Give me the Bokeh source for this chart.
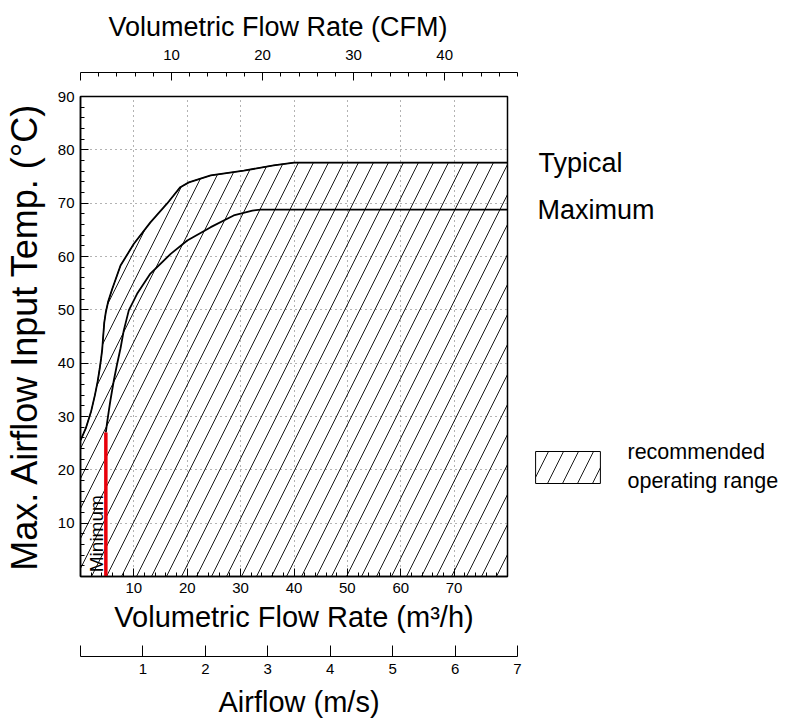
from bokeh.plotting import figure
from bokeh.layouts import column, row
from bokeh.models import Range1d, FixedTicker, Label, Legend, LegendItem
from bokeh.embed import file_html
from bokeh.resources import INLINE
from bokeh.core.validation import silence
from bokeh.core.validation.warnings import MISSING_RENDERERS

silence(MISSING_RENDERERS, True)

# ---------------- data (flow in m3/h, temperature in degC) ----------------
typical_flow = [0.0, 1.0, 2.0, 2.7, 3.2, 3.6, 3.85, 4.07, 4.25, 4.45, 4.75, 5.2, 5.94, 7.5,
                10.0, 13.1, 16.2, 18.7, 20.3, 24.4, 30.6, 36.2, 40.0, 80.0]
typical_temp = [25.5, 27.8, 31.0, 34.0, 36.5, 39.0, 40.8, 42.6, 45.0, 47.6, 49.6, 51.6, 53.9, 58.3,
                62.4, 66.4, 69.9, 73.0, 73.9, 75.2, 76.1, 77.1, 77.6, 77.6]

maximum_flow = [4.75, 4.95, 5.3, 5.6, 6.25, 6.85, 7.5, 8.1, 9.05, 10.6, 13.1, 16.9, 20.0, 24.4,
                28.7, 32.2, 33.7, 80.0]
maximum_temp = [27.0, 28.6, 31.0, 33.0, 36.8, 39.8, 42.8, 46.1, 49.9, 53.0, 56.8, 60.5, 63.0, 65.5,
                67.7, 68.6, 68.8, 68.8]

minimum_flow = [4.75]
minimum_temp = [27.0]

flow_ticks = [10, 20, 30, 40, 50, 60, 70]
flow_minor = list(range(2, 80, 2))
temp_ticks = [10, 20, 30, 40, 50, 60, 70, 80, 90]
temp_minor = list(range(2, 90, 2))
cfm_ticks = [0, 10, 20, 30, 40]
cfm_minor = list(range(2, 49, 2))
airflow_ticks = [0, 1, 2, 3, 4, 5, 6, 7]

FLOW_MAX = 80
TEMP_MAX = 90
CFM_MAX = 48
AIRFLOW_MAX = 7

SANS = "Liberation Sans"
W = 784


def style_axis(ax, ticks, minor, tick_in, label, label_size, std_major, std_label, hide=()):
    ax.ticker = FixedTicker(ticks=ticks, minor_ticks=minor)
    ax.major_tick_in = tick_in
    ax.major_tick_out = 0
    ax.minor_tick_in = 4
    ax.minor_tick_out = 0
    ax.axis_line_color = "black"
    ax.major_tick_line_color = "black"
    ax.minor_tick_line_color = "black"
    ax.major_label_text_font = SANS
    ax.major_label_text_font_size = "15px"
    ax.major_label_text_color = "black"
    ax.major_label_standoff = std_major
    ax.axis_label = label
    ax.axis_label_text_font = SANS
    ax.axis_label_text_font_size = label_size
    ax.axis_label_text_font_style = "normal"
    ax.axis_label_text_color = "black"
    ax.axis_label_standoff = std_label
    if hide:
        ax.major_label_overrides = {h: "" for h in hide}


# ---------------- top: CFM axis ----------------
fa = figure(width=W, height=82, x_range=Range1d(0, CFM_MAX), y_range=Range1d(0, 1),
            x_axis_location="above", y_axis_location=None,
            min_border_left=80, min_border_right=W - 80 - 437,
            min_border_top=72, min_border_bottom=0,
            toolbar_location=None, output_backend="svg")
fa.outline_line_color = None
fa.grid.visible = False
style_axis(fa.xaxis[0], cfm_ticks, cfm_minor, 8, None, "27px", 13, 0, hide=(0,))
fa.title.text = "Volumetric Flow Rate (CFM)"
fa.title.align = "left"
fa.title.offset = 28
fa.title.standoff = 9
fa.title.text_font = SANS
fa.title.text_font_size = "27px"
fa.title.text_font_style = "normal"
fa.title.text_color = "black"

# ---------------- main plot ----------------
fb = figure(width=509, height=558, x_range=Range1d(0, FLOW_MAX), y_range=Range1d(0, TEMP_MAX),
            min_border_left=80, min_border_right=2,
            min_border_top=14, min_border_bottom=64,
            toolbar_location=None, output_backend="svg")
fb.outline_line_color = "black"
fb.outline_line_width = 1.5
fb.background_fill_color = "white"
fb.border_fill_color = "white"

style_axis(fb.xaxis[0], flow_ticks, flow_minor, 8, "Volumetric Flow Rate (m³/h)", "29px", 6, 5)
style_axis(fb.yaxis[0], temp_ticks, temp_minor, 8, "Max. Airflow Input Temp. (°C)", "36px", 6, 10)
fb.xaxis[0].axis_line_width = 1.5
fb.yaxis[0].axis_line_width = 1.5

for g in (fb.xgrid[0], fb.ygrid[0]):
    g.grid_line_color = "#666666"
    g.grid_line_dash = "1 4"
    g.grid_line_width = 1

HATCH = dict(fill_color=None, hatch_pattern="/", hatch_color="black",
             hatch_scale=30, hatch_weight=0.9, line_color="black", line_width=1)

region_x = typical_flow + [FLOW_MAX, 0]
region_y = typical_temp + [0, 0]
fb.patch(region_x, region_y, **HATCH)

fb.line(typical_flow, typical_temp, line_color="black", line_width=1.8)
fb.line(maximum_flow, maximum_temp, line_color="black", line_width=1.8)
fb.segment(x0=minimum_flow, y0=[0], x1=minimum_flow, y1=minimum_temp,
           line_color="#e8000b", line_width=3.5)

fb.add_layout(Label(x=3.0, y=0.8, text="Minimum", angle=90, angle_units="deg",
                    text_align="left", text_baseline="middle",
                    text_font=SANS, text_font_size="19px", text_color="black"))

# ---------------- right side: series names and legend ----------------
fd = figure(width=W - 509, height=558, x_range=Range1d(509, W), y_range=fb.y_range,
            x_axis_location=None, y_axis_location=None,
            min_border_left=0, min_border_right=0,
            min_border_top=14, min_border_bottom=64,
            toolbar_location=None, output_backend="svg")
fd.outline_line_color = None
fd.grid.visible = False

fd.add_layout(Label(x=538, y=typical_temp[-1], text="Typical", text_baseline="middle",
                    text_font=SANS, text_font_size="27px", text_color="black"))
fd.add_layout(Label(x=537, y=maximum_temp[-1], text="Maximum", text_baseline="middle",
                    text_font=SANS, text_font_size="27px", text_color="black"))

# hidden copy of the hatched region, used only as the legend swatch
swatch = fd.patch(region_x, region_y, visible=False, **HATCH)
legend = Legend(items=[LegendItem(label=" ", renderers=[swatch])],
                location=(18, 89), padding=0, margin=0, spacing=0,
                glyph_width=81, glyph_height=40, label_standoff=0, label_width=1,
                label_height=1, label_text_font_size="2px",
                inactive_fill_alpha=0,
                border_line_color=None, background_fill_alpha=0)
fd.add_layout(legend)

fd.add_layout(Label(x=627, y=23.3, text="recommended", text_baseline="middle",
                    text_font=SANS, text_font_size="21.5px", text_color="black"))
fd.add_layout(Label(x=627, y=18.0, text="operating range", text_baseline="middle",
                    text_font=SANS, text_font_size="21.5px", text_color="black"))

# ---------------- bottom: airflow axis ----------------
fc = figure(width=W, height=81, x_range=Range1d(0, AIRFLOW_MAX), y_range=Range1d(0, 1),
            y_axis_location=None,
            min_border_left=80, min_border_right=W - 80 - 437,
            min_border_top=0, min_border_bottom=65,
            toolbar_location=None, output_backend="svg")
fc.outline_line_color = None
fc.grid.visible = False
style_axis(fc.xaxis[0], airflow_ticks, [], 11, "Airflow (m/s)", "29px", 7, 9, hide=(0,))

layout = column(fa, row(fb, fd, spacing=0), fc, spacing=0)
open("out.html", "w").write(file_html(layout, INLINE))
